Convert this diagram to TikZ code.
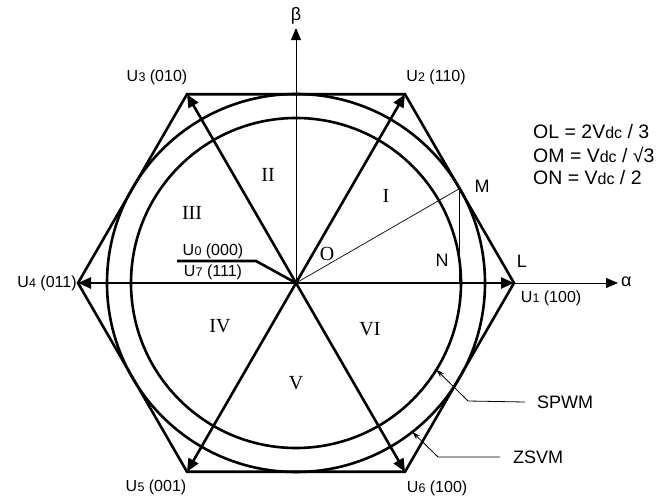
\documentclass[tikz,border=0pt]{standalone}
\usepackage{fontspec}
\setmainfont{Liberation Sans}
\newfontfamily\serifnum{Liberation Serif}
\usetikzlibrary{arrows.meta,calc}
\newcommand{\Uv}[1]{U\kern0.2pt{\fontsize{12.5}{12.5}\selectfont\raisebox{-0.7pt}{#1}}}
\newcommand{\Vdc}{V{\fontsize{16}{16}\selectfont dc}}

\begin{document}
\begin{tikzpicture}[x=1pt, y=-1pt,
  heavy/.style={line width=2.6pt, line join=miter},
  vec/.style={line width=2.6pt, -{Triangle[length=13pt,width=11pt]}},
  axis/.style={line width=0.9pt, -{Triangle[length=12pt,width=10pt]}},
  thin/.style={line width=0.7pt},
  lead/.style={line width=0.8pt, -{Stealth[length=8pt,width=5pt]}},
  vlabel/.style={inner sep=0pt, font=\fontsize{16}{18}\selectfont},
  sector/.style={inner sep=0pt, font=\serifnum\fontsize{20}{22}\selectfont},
  ptlabel/.style={inner sep=0pt, font=\fontsize{18}{20}\selectfont},
  formula/.style={inner sep=0pt, anchor=west, font=\fontsize{19.5}{22}\selectfont}
]
  \useasboundingbox (0,0) rectangle (657,501);

  \coordinate (O) at (296,283);
  \foreach \i in {1,...,6}
    \coordinate (v\i) at ($(O)+({-60*(\i-1)}:218)$);

  % hexagon and circles
  \draw[heavy] (v1) -- (v2) -- (v3) -- (v4) -- (v5) -- (v6) -- cycle;
  \draw[heavy] (O) circle[radius=189];
  \draw[heavy] (O) circle[radius=165];

  % axes
  \coordinate (alphaend) at (618,283);
  \coordinate (betaend) at (296,28);
  \draw[axis] (v1) -- (alphaend);
  \draw[axis] (O) -- (betaend);
  \node[ptlabel, anchor=west] (alpha) at (621,282) {α};
  \node[ptlabel, anchor=south] (beta) at (296,24) {β};

  % voltage vectors
  \foreach \i in {1,...,6}
    \draw[vec] (O) -- (v\i);

  % O, M, N, L
  \coordinate (M) at ($(O)+(-30:189)$);
  \coordinate (N) at (M |- O);
  \draw[thin] (O) -- (M);
  \draw[thin] (M) -- (N);
  \node[sector] (o) at (327,254) {O};
  \node[ptlabel] (m) at (482,186) {M};
  \node[ptlabel] (n) at (442,260) {N};
  \node[ptlabel] (l) at (522,261) {L};

  % zero vectors
  \coordinate (zstart) at (177,261);
  \coordinate (zknee) at (256,261);
  \draw[heavy] (zstart) -- (zknee) -- (O);
  \node[vlabel] (u0) at (213,251) {\Uv{0} (000)};
  \node[vlabel] (u7) at (213,272) {\Uv{7} (111)};

  % vertex labels
  \node[vlabel] (u1) at (551,298) {\Uv{1} (100)};
  \node[vlabel] (u2) at (436,77) {\Uv{2} (110)};
  \node[vlabel] (u3) at (157,77) {\Uv{3} (010)};
  \node[vlabel] (u4) at (47,283) {\Uv{4} (011)};
  \node[vlabel] (u5) at (156,487) {\Uv{5} (001)};
  \node[vlabel] (u6) at (437,488) {\Uv{6} (100)};

  % sectors
  \node[sector] (s1) at (386,196) {I};
  \node[sector] (s2) at (268,175) {II};
  \node[sector] (s3) at (192,213) {III};
  \node[sector] (s4) at (220,326) {IV};
  \node[sector] (s5) at (296,383) {V};
  \node[sector] (s6) at (370,329) {VI};

  % relations
  \node[formula] (ol) at (533,132) {OL = 2\Vdc{} / 3};
  \node[formula] (om) at (533,155) {OM = \Vdc{} / √3};
  \node[formula] (on) at (533,178) {ON = \Vdc{} / 2};

  % modulation limits
  \node[ptlabel, anchor=west, inner xsep=12pt] (spwm) at (525,402) {SPWM};
  \node[ptlabel, anchor=west, inner xsep=13pt] (zsvm) at (500,457) {ZSVM};
  \coordinate (spknee) at (468,401);
  \coordinate (zsknee) at (438,457);
  \draw[lead] (spwm.west) -- (spknee) -- ($(O)+(31.7:165)$);
  \draw[lead] (zsvm.west) -- (zsknee) -- ($(O)+(52:189)$);
\end{tikzpicture}
\end{document}
